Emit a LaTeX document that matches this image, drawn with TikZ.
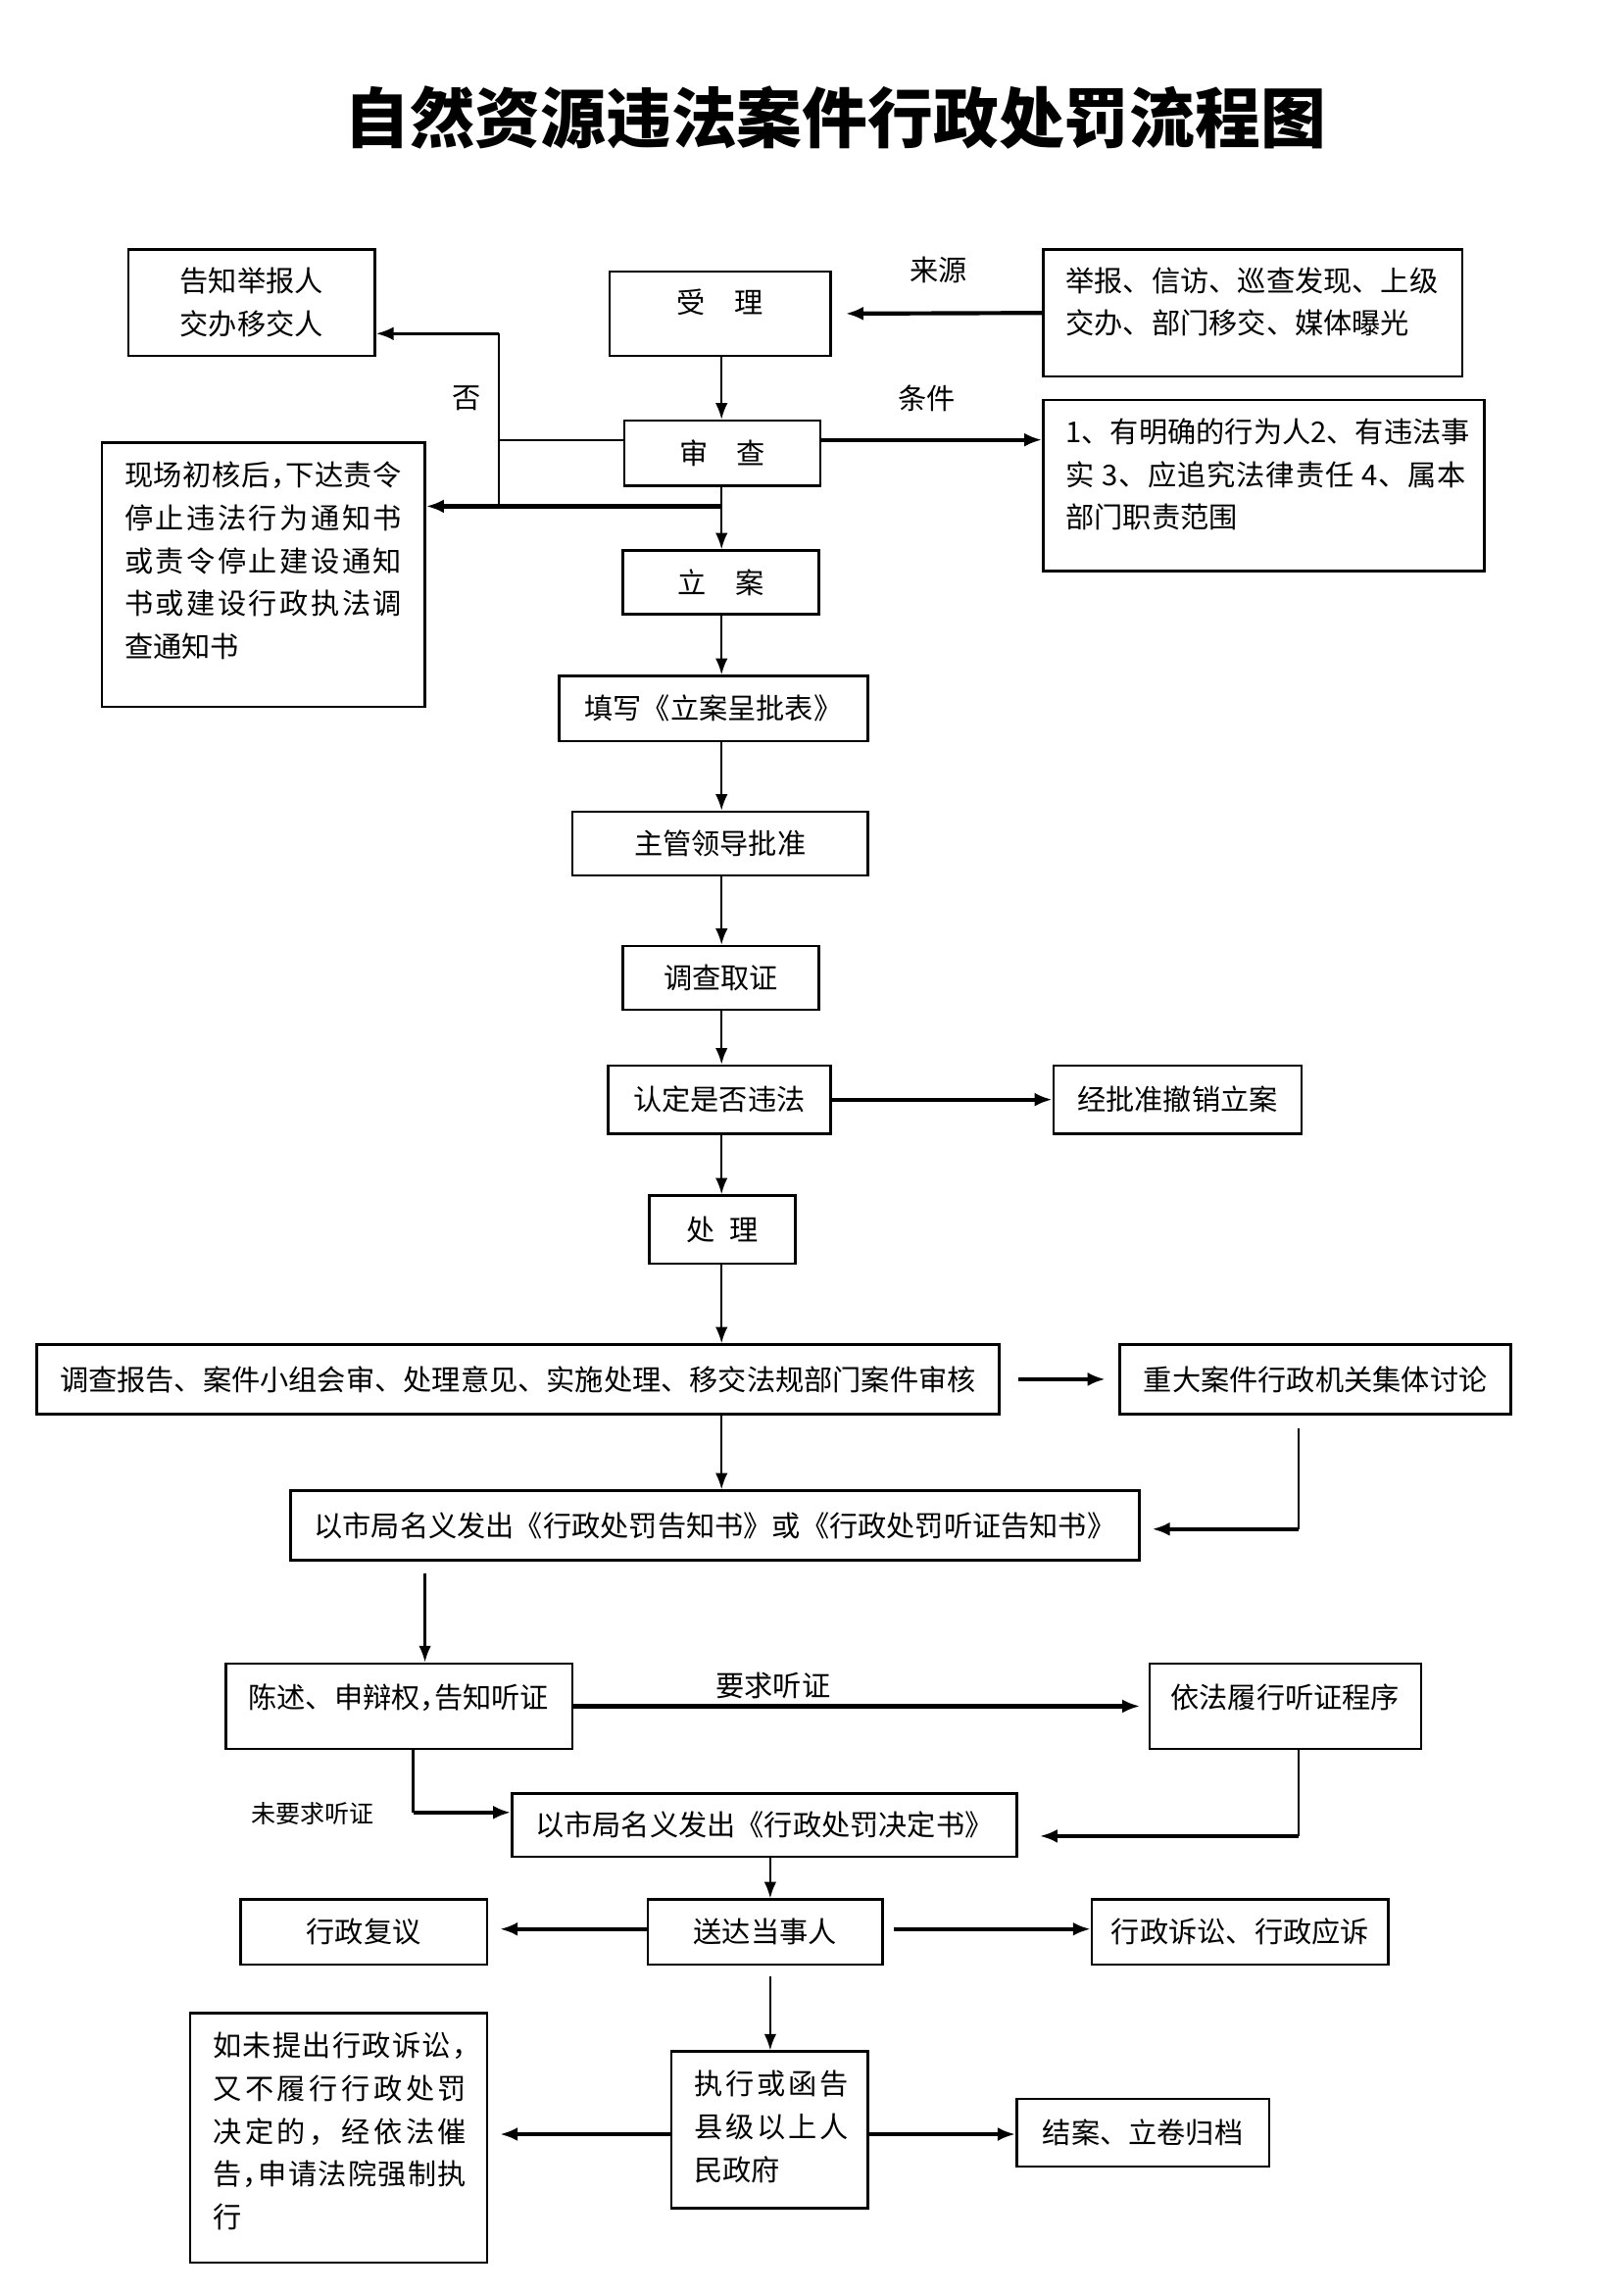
\documentclass[tikz,border=0pt]{standalone}
\usepackage{fontspec}
\setmainfont{Noto Sans CJK SC}
\usetikzlibrary{arrows.meta}
\newcommand\fs{\fontsize{10.5pt}{15.7pt}\selectfont}
\def\jst#1{\jstA#1\relax}
\def\jstA#1{#1\jstB}
\def\jstB#1{\ifx\relax#1\else\hfil#1\expandafter\jstB\fi}
\def\hcm{\makebox[0.5em][l]{，}}
\newcommand\jl[2]{\hbox to #1{\jst{#2}}}
\newcommand\bx[6]{\node[box, minimum width={(#4-#2)*0.5412pt}, minimum height={(#5-#3)*0.5412pt}] (#1) at ({(#2+#4)/2},{(#3+#5)/2}) {#6};}
\tikzset{
  box/.style={draw, line width=0.9pt, inner sep=0pt, font=\fs, align=center},
  arr/.style={-{Latex[length=6pt,width=4.5pt]}, line width=0.8pt},
  tarr/.style={-{Latex[length=6.5pt,width=5pt]}, line width=1.5pt},
  marr/.style={-{Latex[length=6.5pt,width=5pt]}, line width=1.1pt},
  ln/.style={line width=0.8pt},
  lbl/.style={inner sep=0pt, font=\fs},
  mlt/.style={inner sep=0pt, font=\fs, align=left, anchor=west},
}
\begin{document}
\begin{tikzpicture}[x=0.5412pt,y=-0.5412pt]
\fill[white] (0,0) rectangle (1100,1553.6);
\useasboundingbox (0,0) rectangle (1100,1553.6);

\node[inner sep=0pt, font=\fontsize{24pt}{28pt}\selectfont\bfseries] (title) at (566,80) {自然资源违法案件行政处罚流程图};

% boxes
\bx{notify}{87}{169}{254}{241}{告知举报人\\交办移交人}
\bx{shouli}{413}{184}{563}{241}{}
\node[lbl] (shoulit) at (488,205) {受\hspace{1em}理};
\bx{source}{707}{169}{991}{255}{}
\node[mlt] (sourcet) at (722,204.5) {举报、信访、巡查发现、上级\\交办、部门移交、媒体曝光};
\bx{shencha}{423}{285}{556}{329}{审\hspace{1em}查}
\bx{cond}{707}{271}{1006}{387}{}
\node[mlt] (condt) at (722,321.5) {\jl{146.7pt}{1、有明确的行为人2、有违法事}\\\jl{146.7pt}{实~3、应追究法律责任~4、属本}\\部门职责范围};
\bx{xianchang}{69}{300}{288}{479}{}
\node[mlt] (xianchangt) at (84,380) {\jl{101.7pt}{现场初核后\hcm 下达责令}\\\jl{101.7pt}{停止违法行为通知书}\\\jl{101.7pt}{或责令停止建设通知}\\\jl{101.7pt}{书或建设行政执法调}\\查通知书};
\bx{lian}{422}{373}{555}{416}{立\hspace{1em}案}
\bx{tianxie}{379}{458}{588}{502}{填写《立案呈批表》}
\bx{zhuguan}{388}{550}{588}{593}{主管领导批准}
\bx{diaocha}{422}{641}{555}{684}{调查取证}
\bx{rending}{412}{722}{563}{768}{认定是否违法}
\bx{chexiao}{714}{722}{882}{768}{经批准撤销立案}
\bx{chuli}{440}{810}{539}{856}{处\hspace{0.5em}理}
\bx{baogao}{25}{911}{677}{958}{调查报告、案件小组会审、处理意见、实施处理、移交法规部门案件审核}
\bx{zhongda}{759}{911}{1024}{958}{重大案件行政机关集体讨论}
\bx{gaozhi}{197}{1010}{772}{1057}{以市局名义发出《行政处罚告知书》或《行政处罚听证告知书》}
\bx{chenshu}{153}{1127}{388}{1185}{}
\node[mlt] (chenshut) at (168,1150) {陈述、申辩权\hcm 告知听证};
\bx{yifa}{779}{1127}{963}{1185}{}
\node[lbl] (yifat) at (871,1150) {依法履行听证程序};
\bx{jueding}{347}{1215}{689}{1258}{以市局名义发出《行政处罚决定书》}
\bx{songda}{439}{1287}{598}{1331}{送达当事人}
\bx{fuyi}{163}{1287}{330}{1331}{行政复议}
\bx{susong}{740}{1287}{941}{1331}{行政诉讼、行政应诉}
\bx{zhixing}{455}{1390}{588}{1496}{}
\node[mlt] (zhixingt) at (470,1441) {\jl{56.8pt}{执行或函告}\\\jl{56.8pt}{县级以上人}\\民政府};
\bx{ruwei}{129}{1364}{330}{1533}{}
\node[mlt] (ruweit) at (144,1444) {\jl{93pt}{如未提出行政诉讼\hcm}\\\jl{93pt}{又不履行行政处罚}\\\jl{93pt}{决定的，经依法催}\\\jl{93pt}{告\hcm 申请法院强制执}\\行};
\bx{jiean}{689}{1422}{860}{1468}{结案、立卷归档}

% labels
\node[lbl] (laiyuan) at (636,183) {来源};
\node[lbl] (tiaojian) at (628,270) {条件};
\node[lbl] (fou) at (316,270) {否};
\node[lbl] (yaoqiu) at (524,1142) {要求听证};
\node[inner sep=0pt, font=\fontsize{9pt}{11pt}\selectfont] (weiyaoqiu) at (212,1229) {未要求听证};

% coordinates
\coordinate (vx) at (489,0);
\coordinate (j1) at (338,298);
\coordinate (j2) at (338,226);
\coordinate (j3) at (338,343);
\coordinate (k1) at (880,968);
\coordinate (k2) at (880,1036);
\coordinate (vx2) at (288,0);
\coordinate (m1) at (280,1228);
\coordinate (m2) at (880,1244);
\coordinate (vx3) at (522,0);
\coordinate (h1) at (0,1307);
\coordinate (h2) at (0,1446);

% connectors
\draw[tarr, shorten >=5pt] (source.west) -- (shouli.east);
\draw[arr] (vx |- shouli.south) -- (vx |- shencha.north);
\draw[tarr] (shencha.east |- j1) -- (cond.west |- j1);
\draw[ln] (shencha.west |- j1) -- (j1);
\draw[ln] (j3) -- (j2);
\draw[marr] (j2) -- (notify.east |- j2);
\draw[tarr] (vx |- j3) -- (xianchang.east |- j3);
\draw[arr] (vx |- shencha.south) -- (vx |- lian.north);
\draw[arr] (vx |- lian.south) -- (vx |- tianxie.north);
\draw[arr] (vx |- tianxie.south) -- (vx |- zhuguan.north);
\draw[arr] (vx |- zhuguan.south) -- (vx |- diaocha.north);
\draw[arr] (vx |- diaocha.south) -- (vx |- rending.north);
\draw[tarr] (rending.east) -- (chexiao.west);
\draw[arr] (vx |- rending.south) -- (vx |- chuli.north);
\draw[arr] (vx |- chuli.south) -- (vx |- baogao.north);
\draw[tarr, shorten <=6.5pt, shorten >=4.9pt] (baogao.east) -- (zhongda.west);
\draw[arr] (vx |- baogao.south) -- (vx |- gaozhi.north);
\draw[ln] (k1) -- (k2);
\draw[tarr, shorten >=4.3pt] (k2) -- (gaozhi.east |- k2);
\draw[arr, shorten <=4.3pt] (vx2 |- gaozhi.south) -- (vx2 |- chenshu.north);
\draw[tarr, shorten >=3pt] (chenshu.east) -- (yifa.west);
\draw[ln] (chenshu.south -| m1) -- (m1);
\draw[tarr] (m1) -- (jueding.west |- m1);
\draw[ln] (yifa.south -| m2) -- (m2);
\draw[tarr, shorten >=8pt] (m2) -- (jueding.east |- m2);
\draw[arr] (vx3 |- jueding.south) -- (vx3 |- songda.north);
\draw[tarr, shorten >=4.3pt] (songda.west |- h1) -- (fuyi.east |- h1);
\draw[tarr, shorten <=3.8pt] (songda.east |- h1) -- (susong.west |- h1);
\draw[arr, shorten <=3.8pt] (vx3 |- songda.south) -- (vx3 |- zhixing.north);
\draw[tarr, shorten >=4.3pt] (zhixing.west |- h2) -- (ruwei.east |- h2);
\draw[tarr] (zhixing.east |- h2) -- (jiean.west |- h2);
\end{tikzpicture}
\end{document}
